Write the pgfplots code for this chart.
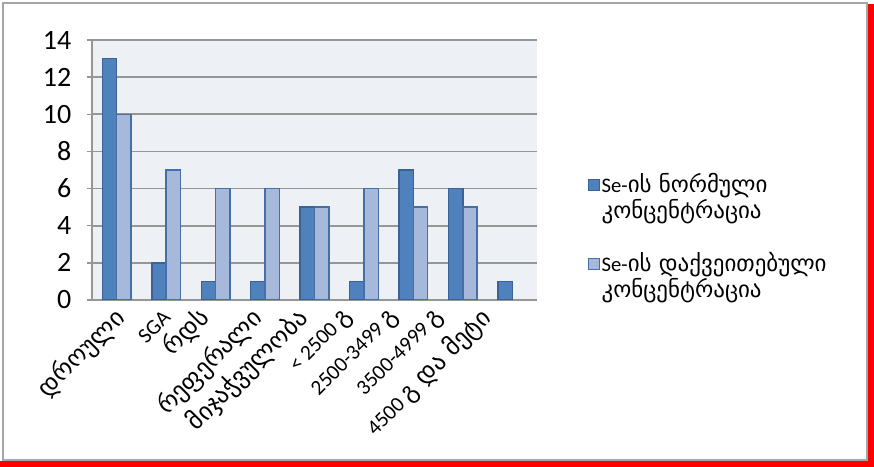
\documentclass[border=0pt]{standalone}
\usepackage{fontspec}
\setmainfont{Carlito}
\newfontfamily\geo{DejaVu Sans}
\newcommand\G[1]{{\geo\fontsize{18.5}{20}\selectfont #1}}
\newcommand\GL[1]{{\geo\fontsize{17.2}{20}\selectfont #1}}
\usepackage{pgfplots}
\pgfplotsset{compat=1.18}

\definecolor{plotbg}{RGB}{237,240,245}
\definecolor{gridc}{RGB}{150,150,150}
\definecolor{darkbar}{RGB}{79,129,189}
\definecolor{darkedge}{RGB}{58,98,148}
\definecolor{lightbar}{RGB}{167,185,218}
\definecolor{lightedge}{RGB}{70,112,165}

\begin{document}
\begin{tikzpicture}
\useasboundingbox (0,0) rectangle (655.5pt,350.25pt);
% outer frame
\fill[white] (0,0) rectangle (655.5pt,350.25pt);
\draw[line width=1.5pt, gray!70] (2.25pt,5.25pt) rectangle (650.25pt,348pt);
\fill[red] (651pt,0) rectangle (655.5pt,347pt);
\fill[red] (0,0) rectangle (655.5pt,4.5pt);

\begin{axis}[
    at={(69pt,125.25pt)}, anchor=south west,
    scale only axis,
    width=333.75pt, height=195pt,
    ybar, bar width=0.29,
    xmin=-0.5, xmax=8.5,
    ymin=0, ymax=14,
    ytick={0,2,...,14},
    % label positions as in the original (ticks themselves are hidden)
    xtick={0,0.925,1.7,2.775,3.7,4.625,5.55,6.475,7.4},
    xticklabels={
        \G{დროული},
        SGA,
        \G{რდს},
        \G{რეფერალი},
        \G{მიჯაჭვულობა},
        {< 2500 \G{გ}},
        {2500-3499 \G{გ}},
        {3500-4999 \G{გ}},
        {4500 \G{გ და მეტი}}},
    x tick style={draw=none},
    y tick style={gridc, line width=1pt},
    tick align=outside,
    major tick length=4pt,
    axis background/.style={fill=plotbg},
    axis x line*=bottom, axis y line*=left,
    axis line style={gridc, line width=1.2pt, -},
    ymajorgrids,
    grid style={gridc, line width=1.2pt},
    /pgf/number format/assume math mode=true,
    yticklabel style={font=\fontsize{21}{23}\selectfont, xshift=-8pt},
    xticklabel style={font=\fontsize{16}{18}\selectfont, rotate=45, anchor=east, xshift=1pt, yshift=-7pt},
    legend style={
        at={(rel axis cs:1.105,0.505)}, anchor=north west,
        draw=none, fill=none,
        font=\fontsize{15.5}{17.5}\selectfont,
        nodes={align=left, inner sep=1pt},
        row sep=22pt,
    },
    legend cell align=left,
    legend image code/.code={\draw[#1, line width=0.8pt] (0pt,4.5pt) rectangle (8.5pt,13pt);},
]
\addplot[fill=darkbar, draw=darkedge, line width=1.1pt, bar shift=-0.145]
    coordinates {(0,13) (1,2) (2,1) (3,1) (4,5) (5,1) (6,7) (7,6) (8,1)};
\addplot[fill=lightbar, draw=lightedge, line width=1.1pt, bar shift=0.145]
    coordinates {(0,10) (1,7) (2,6) (3,6) (4,5) (5,6) (6,5) (7,5)};
\legend{{Se-\GL{ის ნორმული}\\\GL{კონცენტრაცია}},
        {Se-\GL{ის დაქვეითებული}\\\GL{კონცენტრაცია}}}
\end{axis}
\end{tikzpicture}
\end{document}
